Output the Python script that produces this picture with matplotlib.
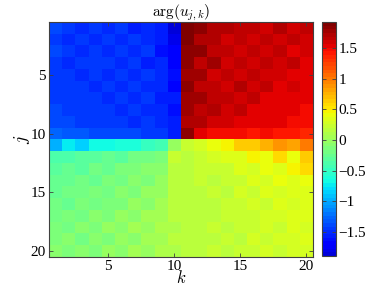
import matplotlib
matplotlib.use("Agg")
import matplotlib.pyplot as plt
import numpy as np
from matplotlib.colors import ListedColormap

plt.rcParams['font.family'] = 'Liberation Serif'
plt.rcParams['mathtext.fontset'] = 'cm'

# arg(u_{j,k}), rows j = 1..20, columns k = 1..20
top_left = [
    [-1.42, -1.47, -1.52, -1.45, -1.50, -1.47, -1.55, -1.49, -1.60, -1.89],
    [-1.45, -1.51, -1.44, -1.53, -1.46, -1.52, -1.47, -1.54, -1.58, -1.80],
    [-1.42, -1.45, -1.50, -1.44, -1.51, -1.46, -1.53, -1.48, -1.62, -1.72],
    [-1.45, -1.50, -1.44, -1.47, -1.46, -1.50, -1.47, -1.55, -1.52, -1.70],
    [-1.43, -1.44, -1.51, -1.44, -1.50, -1.45, -1.49, -1.47, -1.53, -1.62],
    [-1.44, -1.48, -1.43, -1.51, -1.45, -1.52, -1.46, -1.53, -1.49, -1.67],
    [-1.43, -1.44, -1.47, -1.44, -1.52, -1.46, -1.54, -1.47, -1.57, -1.60],
    [-1.42, -1.46, -1.44, -1.48, -1.45, -1.50, -1.46, -1.53, -1.50, -1.62],
    [-1.39, -1.42, -1.45, -1.44, -1.47, -1.46, -1.50, -1.47, -1.52, -1.60],
    [-1.28, -1.36, -1.33, -1.40, -1.38, -1.42, -1.41, -1.45, -1.48, -1.60],
]
top_right = [
    [1.93, 1.85, 1.70, 1.72, 1.65, 1.68, 1.62, 1.70, 1.60, 1.64],
    [1.90, 1.72, 1.73, 1.62, 1.69, 1.63, 1.69, 1.58, 1.64, 1.58],
    [1.87, 1.83, 1.67, 1.66, 1.62, 1.69, 1.58, 1.64, 1.57, 1.62],
    [1.86, 1.69, 1.76, 1.63, 1.69, 1.63, 1.64, 1.60, 1.66, 1.56],
    [1.76, 1.79, 1.63, 1.69, 1.61, 1.64, 1.58, 1.63, 1.53, 1.56],
    [1.86, 1.69, 1.69, 1.63, 1.73, 1.60, 1.66, 1.54, 1.59, 1.52],
    [1.76, 1.79, 1.64, 1.69, 1.58, 1.64, 1.53, 1.57, 1.52, 1.52],
    [1.79, 1.64, 1.71, 1.58, 1.64, 1.55, 1.57, 1.52, 1.54, 1.50],
    [1.72, 1.72, 1.58, 1.61, 1.55, 1.56, 1.52, 1.54, 1.50, 1.48],
    [1.83, 1.56, 1.50, 1.48, 1.47, 1.45, 1.46, 1.43, 1.44, 1.38],
]
bottom_left = [
    [-0.98, -0.75, -0.88, -0.68, -0.68, -0.60, -0.60, -0.52, -0.42, -0.02],
    [-0.38, -0.36, -0.29, -0.32, -0.26, -0.30, -0.18, -0.18, -0.11, 0.20],
    [-0.34, -0.26, -0.31, -0.18, -0.24, -0.16, -0.14, -0.08, -0.06, 0.17],
    [-0.28, -0.24, -0.18, -0.24, -0.14, -0.18, -0.08, -0.11, -0.01, 0.18],
    [-0.26, -0.18, -0.22, -0.14, -0.20, -0.10, -0.14, -0.04, -0.01, 0.14],
    [-0.18, -0.23, -0.14, -0.18, -0.11, -0.16, -0.04, -0.08, 0.04, 0.16],
    [-0.21, -0.14, -0.18, -0.10, -0.14, -0.04, -0.08, 0.02, 0.06, 0.14],
    [-0.14, -0.18, -0.10, -0.14, -0.04, -0.10, 0.02, -0.04, 0.08, 0.12],
    [-0.16, -0.10, -0.18, -0.08, -0.12, -0.02, -0.06, 0.04, 0.06, 0.14],
    [-0.08, -0.16, -0.10, -0.14, -0.04, -0.08, 0.02, -0.02, 0.08, 0.10],
]
bottom_right = [
    [0.22, 0.30, 0.40, 0.45, 0.62, 0.64, 0.74, 0.90, 0.80, 0.98],
    [0.19, 0.25, 0.27, 0.32, 0.35, 0.45, 0.42, 0.60, 0.42, 0.62],
    [0.17, 0.20, 0.25, 0.23, 0.32, 0.29, 0.39, 0.35, 0.45, 0.56],
    [0.17, 0.20, 0.17, 0.25, 0.22, 0.32, 0.27, 0.39, 0.32, 0.42],
    [0.15, 0.17, 0.22, 0.19, 0.27, 0.23, 0.32, 0.29, 0.37, 0.35],
    [0.17, 0.15, 0.19, 0.23, 0.20, 0.29, 0.25, 0.35, 0.29, 0.37],
    [0.15, 0.19, 0.16, 0.22, 0.25, 0.22, 0.31, 0.27, 0.35, 0.32],
    [0.17, 0.15, 0.21, 0.17, 0.25, 0.20, 0.29, 0.25, 0.32, 0.29],
    [0.15, 0.19, 0.17, 0.22, 0.19, 0.27, 0.23, 0.31, 0.27, 0.33],
    [0.17, 0.17, 0.20, 0.18, 0.23, 0.21, 0.27, 0.25, 0.30, 0.31],
]
ticks = [5, 10, 15, 20]
cbar_ticks = [-1.5, -1, -0.5, 0, 0.5, 1, 1.5]
cbar_labels = ['\u22121.5', '\u22121', '\u22120.5', '0', '0.5', '1', '1.5']

data = np.block([[np.array(top_left), np.array(top_right)],
                 [np.array(bottom_left), np.array(bottom_right)]])
n = data.shape[0]

fig = plt.figure(figsize=(3.82, 2.87), dpi=100)
ax = fig.add_axes([0.128, 0.1045, 0.691, 0.8185])
cax = fig.add_axes([0.842, 0.108, 0.037, 0.815])

# jet without its darkest blues, 64 steps like the MATLAB colorbar
cmap = ListedColormap(plt.get_cmap('jet')(np.linspace(0.08, 1.0, 64)))
im = ax.imshow(data, cmap=cmap, vmin=-1.9, vmax=1.93, aspect='auto',
               interpolation='nearest', extent=(0.5, n + 0.5, n + 0.5, 0.5))

ax.set_xticks(ticks)
ax.set_yticks(ticks)
ax.tick_params(direction='in', top=True, right=True, length=3, width=0.6,
               color='#404040', labelsize=11)
ax.tick_params(axis='x', pad=2)
ax.tick_params(axis='y', pad=2)
for s in ax.spines.values():
    s.set_color('#404040')
    s.set_linewidth(0.8)
ax.set_title(r'$\arg(u_{j,k})$', fontsize=11, pad=4)
ax.set_xlabel(r'$k$', fontsize=12, labelpad=-2)
ax.set_ylabel(r'$j$', fontsize=13, labelpad=-1)

cb = fig.colorbar(im, cax=cax, ticks=cbar_ticks)
cb.ax.set_yticklabels(cbar_labels)
cb.ax.tick_params(direction='in', left=True, right=True, length=3, width=0.6,
                  color='#404040', labelsize=11, pad=2)
cb.outline.set_edgecolor('#404040')
cb.outline.set_linewidth(0.8)

fig.savefig('out.png', dpi=100)
plt.close(fig)
